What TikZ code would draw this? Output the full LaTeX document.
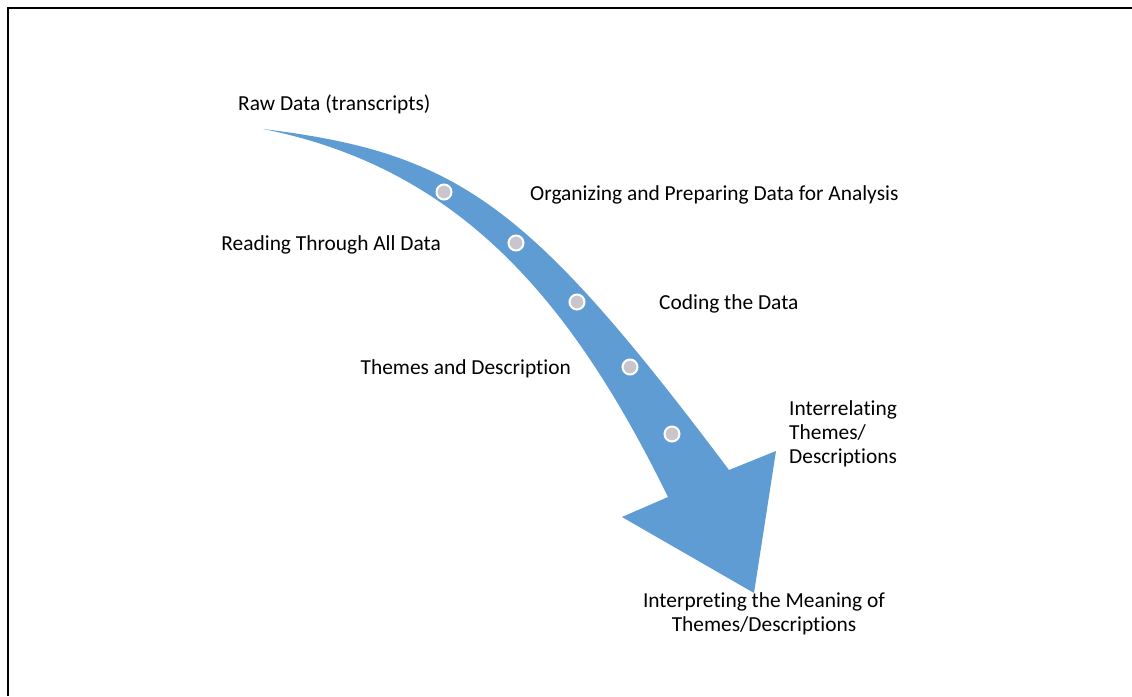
\documentclass[tikz,border=0pt]{standalone}
\usepackage{fontspec}
\setmainfont{Carlito}[Ligatures=NoCommon]
\definecolor{arrowblue}{RGB}{94,156,211}
\definecolor{dotgray}{RGB}{201,197,204}
\begin{document}
\begin{tikzpicture}[x=1pt,y=-1pt,
  stepdot/.style={circle,fill=dotgray,draw=white,line width=2pt,minimum size=15pt,inner sep=0pt},
  lbl/.style={inner sep=0pt,font=\fontsize{21.4}{24}\selectfont}]
\useasboundingbox (0,0) rectangle (1132,696);
% frame lines (top and left only)
\draw[line width=2pt] (7.5,696) -- (7.5,7.5) -- (1132,7.5);

% curved process arrow
\fill[arrowblue] (263,129) .. controls (459,153) and (529,204) .. (729,470)
  -- (776,451) -- (754,593) -- (622,517) -- (668,497)
  .. controls (571,299) and (459,168) .. (263,129) -- cycle;

% step markers along the arrow
\node[stepdot] (d1) at (444,192) {};
\node[stepdot] (d2) at (516,243) {};
\node[stepdot] (d3) at (577,302) {};
\node[stepdot] (d4) at (630,367) {};
\node[stepdot] (d5) at (672,434) {};

% labels (multi-line labels are placed by the baseline of their last line)
\node[lbl,anchor=base west] (raw) at (238,110) {Raw Data (transcripts)};
\node[lbl,anchor=base west] (org) at (530,200) {Organizing and Preparing Data for Analysis};
\node[lbl,anchor=base east] (read) at (441,250) {Reading Through All Data};
\node[lbl,anchor=base west] (code) at (659,309) {Coding the Data};
\node[lbl,anchor=base east] (theme) at (571,374) {Themes and Description};
\node[lbl,anchor=base west,align=left] (inter) at (789,463) {Interrelating\\Themes/\\Descriptions};
\node[lbl,anchor=base,align=center] (interp) at (764,631) {Interpreting the Meaning of\\Themes/Descriptions};
\end{tikzpicture}
\end{document}
